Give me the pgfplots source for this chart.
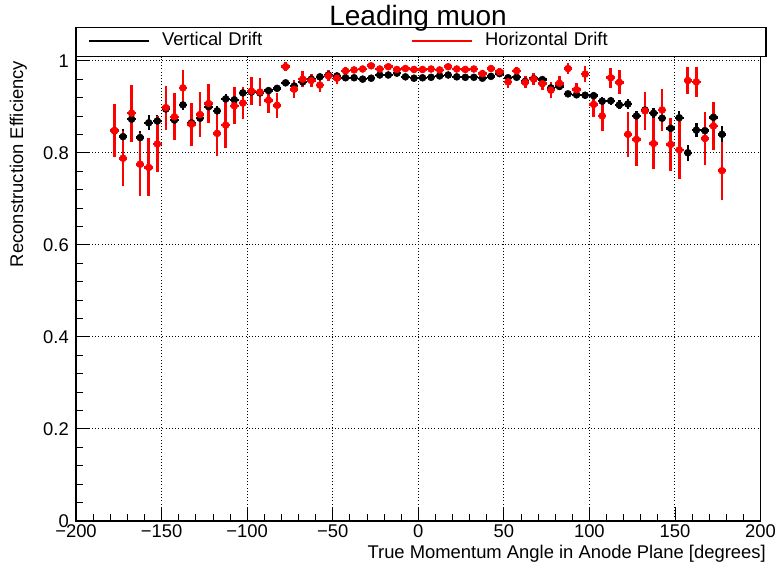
\documentclass[border=0pt]{standalone}
\usepackage{pgfplots}
\pgfplotsset{compat=1.18}
\usepackage{pgfplotstable}
\usepackage{fontspec}
\setmainfont{Liberation Sans}

\pgfplotstableread{
x y ex ey
-177.5 0.848 2.5 0.018
-172.5 0.835 2.5 0.016
-167.5 0.873 2.5 0.015
-162.5 0.833 2.5 0.015
-157.5 0.865 2.5 0.016
-152.5 0.869 2.5 0.014
-147.5 0.895 2.5 0.013
-142.5 0.871 2.5 0.013
-137.5 0.904 2.5 0.012
-132.5 0.865 2.5 0.012
-127.5 0.875 2.5 0.012
-122.5 0.900 2.5 0.011
-117.5 0.891 2.5 0.011
-112.5 0.917 2.5 0.010
-107.5 0.915 2.5 0.010
-102.5 0.930 2.5 0.009
-97.5 0.932 2.5 0.008
-92.5 0.930 2.5 0.008
-87.5 0.935 2.5 0.007
-82.5 0.940 2.5 0.007
-77.5 0.952 2.5 0.006
-72.5 0.945 2.5 0.006
-67.5 0.954 2.5 0.005
-62.5 0.960 2.5 0.005
-57.5 0.965 2.5 0.005
-52.5 0.969 2.5 0.004
-47.5 0.967 2.5 0.004
-42.5 0.963 2.5 0.004
-37.5 0.963 2.5 0.004
-32.5 0.960 2.5 0.004
-27.5 0.962 2.5 0.004
-22.5 0.969 2.5 0.004
-17.5 0.969 2.5 0.004
-12.5 0.973 2.5 0.004
-7.5 0.965 2.5 0.004
-2.5 0.962 2.5 0.004
2.5 0.963 2.5 0.004
7.5 0.964 2.5 0.004
12.5 0.967 2.5 0.004
17.5 0.969 2.5 0.004
22.5 0.965 2.5 0.004
27.5 0.964 2.5 0.004
32.5 0.964 2.5 0.004
37.5 0.962 2.5 0.004
42.5 0.966 2.5 0.004
47.5 0.972 2.5 0.004
52.5 0.963 2.5 0.005
57.5 0.964 2.5 0.005
62.5 0.955 2.5 0.005
67.5 0.961 2.5 0.005
72.5 0.959 2.5 0.005
77.5 0.941 2.5 0.006
82.5 0.944 2.5 0.006
87.5 0.928 2.5 0.007
92.5 0.926 2.5 0.007
97.5 0.925 2.5 0.008
102.5 0.924 2.5 0.008
107.5 0.912 2.5 0.009
112.5 0.913 2.5 0.009
117.5 0.904 2.5 0.010
122.5 0.906 2.5 0.010
127.5 0.880 2.5 0.011
132.5 0.893 2.5 0.011
137.5 0.886 2.5 0.012
142.5 0.875 2.5 0.013
147.5 0.853 2.5 0.014
152.5 0.876 2.5 0.014
157.5 0.800 2.5 0.017
162.5 0.849 2.5 0.015
167.5 0.848 2.5 0.015
172.5 0.877 2.5 0.015
177.5 0.840 2.5 0.018
}\vertical

\pgfplotstableread{
x y ex ey
-177.5 0.848 2.5 0.057
-172.5 0.788 2.5 0.060
-167.5 0.886 2.5 0.062
-162.5 0.775 2.5 0.068
-157.5 0.768 2.5 0.063
-152.5 0.819 2.5 0.061
-147.5 0.898 2.5 0.048
-142.5 0.878 2.5 0.051
-137.5 0.941 2.5 0.038
-132.5 0.862 2.5 0.047
-127.5 0.883 2.5 0.048
-122.5 0.907 2.5 0.043
-117.5 0.842 2.5 0.049
-112.5 0.860 2.5 0.050
-107.5 0.902 2.5 0.040
-102.5 0.908 2.5 0.035
-97.5 0.934 2.5 0.030
-92.5 0.932 2.5 0.030
-87.5 0.914 2.5 0.028
-82.5 0.903 2.5 0.027
-77.5 0.987 2.5 0.010
-72.5 0.938 2.5 0.020
-67.5 0.960 2.5 0.017
-62.5 0.957 2.5 0.015
-57.5 0.947 2.5 0.015
-52.5 0.967 2.5 0.012
-47.5 0.962 2.5 0.012
-42.5 0.978 2.5 0.008
-37.5 0.980 2.5 0.007
-32.5 0.982 2.5 0.007
-27.5 0.989 2.5 0.006
-22.5 0.982 2.5 0.007
-17.5 0.987 2.5 0.006
-12.5 0.981 2.5 0.007
-7.5 0.983 2.5 0.006
-2.5 0.981 2.5 0.007
2.5 0.981 2.5 0.007
7.5 0.982 2.5 0.007
12.5 0.980 2.5 0.007
17.5 0.987 2.5 0.006
22.5 0.982 2.5 0.007
27.5 0.981 2.5 0.007
32.5 0.982 2.5 0.007
37.5 0.972 2.5 0.008
42.5 0.983 2.5 0.007
47.5 0.976 2.5 0.008
52.5 0.954 2.5 0.013
57.5 0.978 2.5 0.009
62.5 0.953 2.5 0.013
67.5 0.960 2.5 0.013
72.5 0.950 2.5 0.013
77.5 0.936 2.5 0.018
82.5 0.951 2.5 0.015
87.5 0.983 2.5 0.012
92.5 0.937 2.5 0.015
97.5 0.971 2.5 0.018
102.5 0.905 2.5 0.028
107.5 0.880 2.5 0.032
112.5 0.963 2.5 0.022
117.5 0.953 2.5 0.026
122.5 0.840 2.5 0.049
127.5 0.829 2.5 0.057
132.5 0.891 2.5 0.042
137.5 0.820 2.5 0.056
142.5 0.893 2.5 0.046
147.5 0.818 2.5 0.058
152.5 0.806 2.5 0.064
157.5 0.957 2.5 0.030
162.5 0.954 2.5 0.032
167.5 0.831 2.5 0.058
172.5 0.858 2.5 0.053
177.5 0.761 2.5 0.063
}\horizontal

\begin{document}
\fontsize{18.4bp}{21bp}\selectfont
\begin{tikzpicture}
\begin{axis}[
  scale only axis,
  width=684.5bp, height=464.1bp,
  xmin=-200, xmax=200, ymin=0, ymax=1.009,
  xtick={-200,-150,-100,-50,0,50,100,150,200},
  xticklabels={−200,−150,−100,−50,0,50,100,150,200},
  ytick={0,0.2,0.4,0.6,0.8,1},
  yticklabels={0,0.2,0.4,0.6,0.8,1},
  minor x tick num=4, minor y tick num=4,
  tick pos=left, tick align=inside,
  major tick length=14bp, minor tick length=7bp,
  tick style={black, line width=0.8bp},
  grid=major,
  grid style={black, line width=0.9bp, dash pattern=on 1bp off 2.2bp},
  axis line style={black, line width=1.6bp},
  xticklabel style={font=\fontsize{18.4bp}{20bp}\selectfont, inner sep=1bp, yshift=-2.5bp},
  yticklabel style={font=\fontsize{18.4bp}{20bp}\selectfont, inner sep=0pt, xshift=-7bp},
  xlabel={True Momentum Angle in Anode Plane [degrees]},
  xlabel style={font=\fontsize{18.4bp}{20bp}\selectfont, at={(axis description cs:1.008,-0.0825)}, anchor=base east, inner sep=0pt},
  ylabel={Reconstruction Efficiency},
  ylabel style={font=\fontsize{18.4bp}{20bp}\selectfont, at={(axis description cs:-0.0774,0.9914)}, anchor=base east, inner sep=0pt},
  legend columns=2,
  legend cell align=left,
  legend image code/.code={\draw (0bp,0bp) -- (60bp,0bp);},
  legend style={draw=none, fill=none, at={(axis description cs:0.01753,1.0343)}, anchor=west,
    inner sep=0pt, outer sep=0pt, row sep=0pt, column sep=0pt,
    font=\fontsize{18.4bp}{20bp}\selectfont,
    nodes={inner sep=0pt, inner xsep=12bp, text width=237bp, align=left}},
  clip=false,
]
\addplot[forget plot, only marks, black, mark=*, mark size=3.5bp, mark options={black, fill=black, line width=0.5bp},
  error bars/.cd, x dir=both, x explicit, y dir=both, y explicit,
  error bar style={black, line width=2.4bp}, error mark=none]
  table[x=x, y=y, x error=ex, y error=ey] {\vertical};
\addplot[forget plot, only marks, red, mark=*, mark size=3.5bp, mark options={red, fill=red, line width=0.5bp},
  error bars/.cd, x dir=both, x explicit, y dir=both, y explicit,
  error bar style={red, line width=2.6bp}, error mark=none]
  table[x=x, y=y, x error=ex, y error=ey] {\horizontal};
\addlegendimage{black, line width=2bp}
\addlegendentry{Vertical Drift}
\addlegendimage{red, line width=2bp}
\addlegendentry{Horizontal Drift}
\draw[black, line width=1.5bp] (axis description cs:0,1) rectangle (axis description cs:1.008,1.0625);
\node[anchor=base, inner sep=0pt, font=\fontsize{28bp}{30bp}\selectfont] at (axis description cs:0.4997,1.0667) {Leading muon};
\end{axis}
\pgfresetboundingbox
\path (-76bp,-45.3bp) rectangle (700bp,520.7bp);
\end{tikzpicture}
\end{document}
